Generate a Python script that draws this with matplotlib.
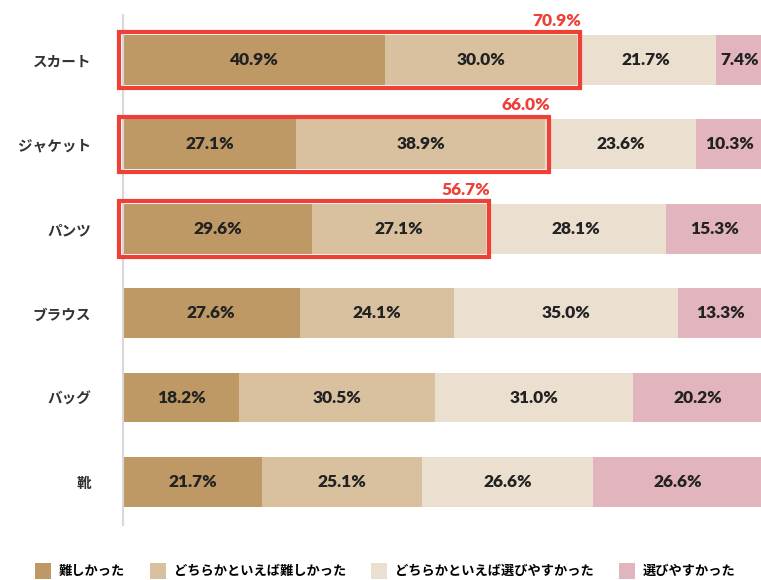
import matplotlib.pyplot as plt
from matplotlib.patches import Rectangle, Patch
import numpy as np

plt.rcParams['font.family'] = ['Noto Sans CJK JP', 'DejaVu Sans']

items = ['スカート', 'ジャケット', 'パンツ', 'ブラウス', 'バッグ', '靴']
hard = [40.9, 27.1, 29.6, 27.6, 18.2, 21.7]
rather_hard = [30.0, 38.9, 27.1, 24.1, 30.5, 25.1]
rather_easy = [21.7, 23.6, 28.1, 35.0, 31.0, 26.6]
easy = [7.4, 10.3, 15.3, 13.3, 20.2, 26.6]
series_names = ['難しかった', 'どちらかといえば難しかった', 'どちらかといえば選びやすかった', '選びやすかった']
colors = ['#BE9966', '#D9C1A0', '#EBE0D0', '#E2B4BD']
highlight_idx = [0, 1, 2]
red = '#EE4037'
num_font = ['Lato', 'DejaVu Sans']

fig = plt.figure(figsize=(7.61, 5.8), dpi=100)
ax = fig.add_axes([123 / 761, 1 - 525 / 580, 1 - 123 / 761, (525 - 15) / 580])

y = np.arange(len(items))
left = np.zeros(len(items))
for vals, c in zip([hard, rather_hard, rather_easy, easy], colors):
    vals = np.array(vals)
    ax.barh(y, vals, left=left, height=0.59, color=c, edgecolor='none')
    for yi, l, v in zip(y, left, vals):
        ax.text(l + v / 2, yi, f'{v:.1f}%', ha='center', va='center',
                fontsize=12.5, fontweight='heavy', color='#222222', family=num_font)
    left += vals

for i in highlight_idx:
    total = hard[i] + rather_hard[i]
    ax.add_patch(Rectangle((-0.55, i - 0.33), total + 1.1, 0.66, fill=False,
                           edgecolor=red, linewidth=3, clip_on=False, zorder=5))
    ax.text(total + 0.7, i - 0.37, f'{total:.1f}%', ha='right', va='bottom',
            fontsize=12.5, fontweight='heavy', color=red, family=num_font)

ax.set_xlim(0, 99.7)
ax.set_ylim(5.51, -0.533)
ax.set_yticks(y)
ax.set_yticklabels(items, fontsize=10.5, fontweight='bold', color='#333333')
ax.tick_params(axis='y', length=0, pad=23)
ax.set_xticks([])
for s in ['top', 'right', 'bottom']:
    ax.spines[s].set_visible(False)
ax.spines['left'].set_color('#D8D8DC')
ax.spines['left'].set_linewidth(1.5)

handles = [Patch(facecolor=c, edgecolor='none') for c in colors]
fig.legend(handles, series_names, loc='lower center', bbox_to_anchor=(0.506, -0.018),
           ncol=4, frameon=False, handlelength=1.2, handleheight=1.4,
           columnspacing=1.9, handletextpad=0.6,
           prop={'size': 9.5, 'weight': 'bold'})

fig.savefig('out.png', dpi=100)
